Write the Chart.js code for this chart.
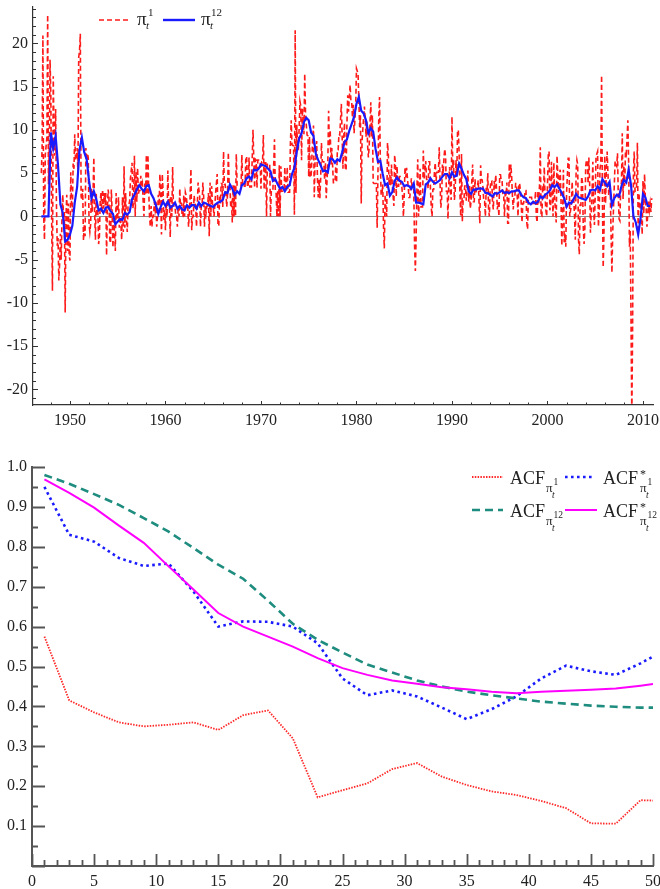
<!DOCTYPE html>
<html><head><meta charset="utf-8">
<script src="https://cdn.jsdelivr.net/npm/chart.js@4.4.0/dist/chart.umd.min.js"></script>
<style>
html,body{margin:0;padding:0;background:#fff;}
#wrap{position:relative;width:660px;height:889px;overflow:hidden;background:#fff;}
#c1{position:absolute;left:0;top:0;}
#c2{position:absolute;left:0;top:440px;}
#lg{position:absolute;left:0;top:0;pointer-events:none;}
</style></head><body>
<div id="wrap">
<canvas id="c1" width="660" height="440"></canvas>
<canvas id="c2" width="660" height="449"></canvas>
<svg id="lg" width="660" height="889" font-family="'Liberation Serif','Times New Roman',serif" fill="#222" font-size="18">
  <line x1="99" y1="20" x2="128" y2="20" stroke="#ff1a1a" stroke-width="1.7" stroke-dasharray="5 3"/>
  <text x="137" y="25" font-size="19">π</text>
  <text x="146" y="29" font-size="11" font-style="italic">t</text>
  <text x="148" y="16" font-size="11">1</text>
  <line x1="163" y1="20" x2="195" y2="20" stroke="#1a1aff" stroke-width="2.4"/>
  <text x="201" y="25" font-size="19">π</text>
  <text x="210" y="29" font-size="11" font-style="italic">t</text>
  <text x="211" y="16" font-size="11">12</text>

  <line x1="472" y1="477" x2="503" y2="477" stroke="#ff2a2a" stroke-width="1.8" stroke-dasharray="1.5 1.3"/>
  <text x="510" y="484">ACF</text>
  <text x="546" y="492" font-size="13">π</text>
  <text x="553.5" y="485" font-size="9.5">1</text>
  <text x="552" y="498" font-size="9.5" font-style="italic">t</text>
  <line x1="565" y1="477" x2="595" y2="477" stroke="#1a1aff" stroke-width="2.6" stroke-dasharray="2.6 3.4"/>
  <text x="603" y="484">ACF</text>
  <text x="640" y="478" font-size="12">*</text>
  <text x="640" y="492" font-size="13">π</text>
  <text x="647.5" y="485" font-size="9.5">1</text>
  <text x="646" y="498" font-size="9.5" font-style="italic">t</text>

  <line x1="472" y1="510" x2="503" y2="510" stroke="#1e8c7e" stroke-width="2.6" stroke-dasharray="8 5"/>
  <text x="510" y="517">ACF</text>
  <text x="546" y="525" font-size="13">π</text>
  <text x="553.5" y="518" font-size="9.5">12</text>
  <text x="552" y="531" font-size="9.5" font-style="italic">t</text>
  <line x1="565" y1="510" x2="597" y2="510" stroke="#ff00ff" stroke-width="2"/>
  <text x="603" y="517">ACF</text>
  <text x="640" y="511" font-size="12">*</text>
  <text x="640" y="525" font-size="13">π</text>
  <text x="647.5" y="518" font-size="9.5">12</text>
  <text x="646" y="531" font-size="9.5" font-style="italic">t</text>
</svg>
</div>
<script>
// ---------- DATA ----------
const START_YEAR = 1947;           // first month: Jan 1947
// monthly annualised inflation pi^1 (one row per year, Jan..Dec)
const pi1 = [
5.0,7.8,20.9,0.0,-2.7,7.1,8.1,9.1,23.3,3.7,7.8,18.1,
13.8,-0.5,-8.6,16.2,9.5,7.0,12.4,1.5,-3.4,-2.5,-7.4,-5.5,
-2.0,-5.0,0.0,2.5,-0.5,0.5,-11.1,0.0,2.5,-4.0,1.5,-4.6,
-5.1,5.1,1.5,0.5,6.1,5.5,9.5,6.5,6.9,7.9,4.9,18.4,
19.1,21.1,2.3,1.9,3.2,-2.8,-0.9,-2.3,7.9,6.0,7.3,6.8,
-0.9,-1.8,-0.9,3.2,0.5,2.7,6.8,0.5,-2.7,2.7,0.0,0.9,
-3.2,-2.3,1.8,2.7,0.5,3.1,0.9,2.7,1.8,2.7,-4.5,0.9,
3.1,2.2,-2.7,-3.1,3.1,0.4,-3.6,-0.4,-1.8,-4.0,2.7,-0.4,
0.0,2.2,-1.3,0.0,-0.9,-2.7,2.2,-1.8,5.8,-1.3,2.7,-0.4,
-1.8,1.3,1.3,1.8,4.4,5.3,6.2,0.9,1.8,7.0,0.0,5.2,
1.7,5.6,2.6,3.0,3.0,4.7,3.4,3.8,1.7,0.0,3.8,2.5,
7.1,2.5,7.1,2.9,0.0,-1.2,1.2,-1.2,0.0,0.0,1.7,0.8,
1.7,-1.2,0.0,2.5,1.2,4.9,2.9,-2.1,4.9,2.9,-0.4,0.8,
-1.6,1.6,0.0,5.3,1.2,1.6,-2.4,2.4,0.0,5.7,1.2,1.2,
1.2,0.0,0.0,-1.2,1.2,0.0,3.2,0.8,1.6,0.0,0.0,2.4,
0.0,2.8,2.4,1.6,1.2,-1.2,0.4,2.4,5.5,-1.6,0.0,0.0,
2.4,1.6,1.2,-1.2,1.2,3.9,3.1,2.3,-1.2,1.2,1.2,3.9,
2.3,-1.2,1.2,0.4,1.2,1.2,2.7,-2.3,3.9,0.0,3.5,1.5,
1.2,0.0,1.2,2.7,3.8,4.9,-1.1,-1.1,2.3,1.5,3.8,3.8,
1.1,7.5,3.7,3.7,2.6,1.1,2.6,7.4,3.7,3.7,1.1,1.5,
-0.7,3.6,0.0,3.6,0.0,7.2,3.6,3.6,3.6,3.6,3.6,3.5,
7.1,3.5,3.5,3.5,3.5,6.9,6.9,3.4,3.4,6.8,3.4,3.4,
3.4,6.7,10.0,6.6,3.3,6.6,6.5,3.3,6.5,6.5,6.4,6.4,
3.2,6.3,6.3,9.4,3.1,6.2,6.2,0.0,6.1,6.1,6.1,6.0,
0.0,3.0,3.0,3.0,6.0,8.9,3.0,2.9,0.0,2.9,0.0,5.9,
0.0,5.8,2.9,2.9,2.9,2.9,5.7,2.9,2.9,5.7,2.8,2.8,
2.8,8.4,11.1,8.3,8.2,8.2,0.2,21.5,2.7,10.6,7.9,7.8,
10.3,13.3,12.8,6.5,12.5,11.0,9.5,16.5,11.8,10.5,9.4,9.3,
4.6,9.2,4.6,4.5,6.8,9.0,10.5,2.2,6.6,6.6,8.7,4.3,
2.2,4.3,2.1,4.3,8.5,6.4,6.3,6.3,4.2,6.2,2.1,4.1,
6.2,12.2,8.1,10.0,6.0,7.9,5.9,3.9,3.9,3.9,5.8,3.9,
7.7,7.7,9.5,9.4,11.2,13.0,9.2,5.5,9.1,10.8,5.4,5.3,
10.6,14.0,12.1,13.7,15.2,13.4,13.2,11.4,12.9,9.6,11.1,12.6,
17.1,16.8,16.5,13.4,10.3,11.7,1.5,8.7,10.1,11.4,12.7,11.2,
9.2,11.0,8.2,6.8,8.1,10.7,13.2,9.1,11.7,3.9,3.8,3.8,
3.8,3.8,-1.3,5.1,11.3,13.8,6.2,2.5,2.5,3.7,-1.2,-3.7,
2.5,1.2,0.0,8.5,7.3,3.6,4.8,3.6,6.0,3.6,2.4,1.2,
7.1,5.9,2.3,5.8,3.5,3.5,4.6,4.6,3.4,3.4,2.3,0.0,
2.3,5.7,4.5,5.6,4.5,3.4,2.2,2.2,3.3,4.4,3.3,3.3,
3.3,-3.3,-6.3,-2.2,3.3,6.6,0.0,2.2,5.5,1.1,1.1,1.1,
7.6,4.3,5.4,6.4,4.3,4.2,3.2,6.3,6.3,3.1,1.0,0.0,
3.1,3.1,5.2,6.2,4.1,5.1,5.1,5.1,8.0,4.0,1.0,2.0,
6.0,4.9,6.9,7.8,6.8,2.9,2.9,-0.3,3.8,5.7,2.9,1.9,
11.5,5.6,6.5,1.9,2.8,6.5,4.6,9.9,10.0,7.2,2.7,0.0,
7.2,-0.6,1.8,1.8,3.5,3.5,1.8,3.5,5.3,1.7,3.5,0.9,
1.7,4.3,6.0,1.7,1.7,4.3,2.6,3.4,3.4,4.2,1.7,-0.8,
5.9,4.2,4.2,3.3,1.7,1.7,0.0,3.3,2.5,5.0,0.8,0.0,
3.3,4.1,4.1,1.6,0.8,4.1,3.2,4.8,3.2,0.8,1.6,0.0,
4.8,4.8,4.0,4.0,2.4,2.4,0.0,3.1,2.4,3.9,-0.8,-0.8,
6.1,3.9,6.0,4.6,2.3,0.8,2.3,2.3,3.8,3.8,2.3,0.0,
3.8,3.8,3.0,1.5,-0.7,1.5,1.5,2.2,3.0,3.0,-0.7,-1.5,
2.2,2.2,2.2,2.2,2.2,1.5,1.5,1.5,1.5,2.9,0.0,-0.7,
2.9,1.5,3.6,8.0,0.0,0.0,3.6,2.9,5.7,2.1,0.7,0.0,
3.6,7.1,7.5,0.7,1.4,6.3,2.8,0.0,6.2,2.1,0.7,-0.7,
7.0,4.8,2.7,4.8,5.4,2.0,-3.4,0.0,5.4,-3.0,-2.0,-3.5,
2.7,4.7,6.7,6.7,0.0,0.7,1.3,4.0,2.0,2.0,0.0,-2.7,
5.3,6.5,6.0,-2.6,-4.4,1.3,1.3,4.6,3.9,-1.3,-3.2,-1.3,
5.8,6.5,6.5,3.8,6.8,3.8,-1.9,0.6,2.5,6.3,0.6,-1.0,
2.5,6.9,7.2,7.5,-1.2,0.6,5.5,6.1,16.3,2.4,-5.9,-2.0,
7.0,1.5,5.5,7.5,5.0,2.4,3.5,2.4,-2.5,-6.5,-1.8,1.0,
3.7,6.4,6.0,5.8,7.3,2.3,-0.3,-0.5,3.3,4.0,9.6,2.0,
5.9,3.5,7.5,7.2,9.0,11.1,6.2,-3.5,-1.7,-12.2,-23.2,-12.5,
5.2,7.5,2.9,3.0,3.5,8.5,-1.9,2.7,0.8,1.2,0.8,-2.1,
4.1,0.3,4.9,2.1,0.9,-1.2,0.2,1.7,0.7,1.5,0.5,2.1
];
// 12-month inflation pi^12, quarterly readings (Jan, Apr, Jul, Oct)
const pi12 = [
0,0,0,0, 9.7,7.9,9.3,5.9, 1.4,0.4,-2.9,-2.7, -2.1,-1.1,1.6,3.4,
7.7,9.1,7.4,6.6, 4.1,2.1,2.9,2.0, 0.7,0.9,0.4,1.0, 1.1,0.6,0.3,-0.9,
-0.6,-0.3,-0.4,0.4, 0.2,0.5,2.0,2.5, 3.1,3.6,3.2,2.9, 3.5,3.6,2.6,2.1,
1.3,0.3,1.1,1.7, 1.2,1.7,1.0,1.2, 1.6,0.9,1.2,0.8, 0.7,1.3,1.0,1.3,
1.3,0.9,1.6,1.2, 1.6,1.5,1.3,1.2, 1.1,1.4,1.6,1.7, 1.9,2.8,2.7,3.7,
3.2,2.5,2.9,2.6, 3.6,3.8,4.4,4.6, 4.3,5.4,5.3,5.5, 6.0,5.9,5.8,5.5,
5.2,4.1,4.3,3.7, 3.2,3.4,2.9,3.4, 3.6,4.9,5.6,7.5, 9.0,9.6,10.9,11.4,
11.1,9.7,9.3,7.2, 6.5,5.9,5.2,5.3, 5.1,6.7,6.6,6.2, 6.6,6.4,7.4,8.6,
8.9,9.9,10.7,11.5, 13.0,13.8,12.2,11.9, 11.1,9.6,10.2,9.8, 7.8,6.3,6.4,4.9,
3.6,3.8,2.4,2.8, 4.1,4.5,4.1,4.0, 3.5,3.6,3.5,3.2, 3.8,1.6,1.6,1.5,
1.4,3.7,3.9,4.4, 4.0,3.8,4.0,4.2, 4.6,4.9,4.9,4.4, 5.1,4.6,4.7,6.1,
5.5,4.8,4.3,2.9, 2.6,3.1,3.1,3.2, 3.2,3.2,2.7,2.7, 2.5,2.3,2.7,2.6,
2.8,3.0,2.7,2.8, 2.7,2.9,2.9,3.0, 3.0,2.5,2.2,2.1, 1.6,1.4,1.7,1.5,
1.7,2.3,2.1,2.5, 2.7,3.0,3.6,3.4, 3.7,3.2,2.7,2.1, 1.1,1.6,1.5,2.0,
2.6,2.2,2.1,2.0, 1.9,2.3,3.0,3.1, 3.0,3.5,3.1,4.3, 3.9,3.5,4.0,1.3,
2.1,2.5,2.3,3.5, 4.2,3.9,5.4,3.6, 0.0,-0.7,-2.1,-0.2, 2.6,2.2,1.2,1.2
];
// autocorrelation functions
const lags        = [1,3,5,7,9,11,13,15,17,19,21,23,25,27,29,31,33,35,37,39,41,43,45,47,49,50];
const acfPi1      = [0.575,0.415,0.385,0.36,0.35,0.354,0.36,0.341,0.378,0.39,0.32,0.172,0.19,0.207,0.243,0.258,0.224,0.203,0.187,0.178,0.163,0.145,0.107,0.106,0.165,0.164];
const acfStarPi1  = [0.95,0.83,0.813,0.772,0.752,0.758,0.688,0.60,0.613,0.612,0.60,0.558,0.47,0.428,0.44,0.425,0.397,0.368,0.393,0.425,0.47,0.502,0.488,0.479,0.508,0.525];
const acfPi12     = [0.98,0.958,0.932,0.905,0.872,0.838,0.797,0.755,0.72,0.665,0.607,0.567,0.535,0.505,0.485,0.465,0.45,0.437,0.428,0.42,0.412,0.407,0.402,0.399,0.397,0.397];
const acfStarPi12 = [0.969,0.935,0.898,0.853,0.81,0.751,0.693,0.634,0.60,0.575,0.55,0.521,0.496,0.479,0.465,0.457,0.448,0.443,0.437,0.433,0.437,0.439,0.442,0.445,0.452,0.456];
// tick labels
const yearTicks = [1950,1960,1970,1980,1990,2000,2010];
const inflTicks = [-20,-15,-10,-5,0,5,10,15,20];
const lagTicks  = [0,5,10,15,20,25,30,35,40,45,50];
const acfTicks  = [0.1,0.2,0.3,0.4,0.5,0.6,0.7,0.8,0.9,1.0];

// ---------- HELPERS ----------
const FONT = {family: "'Liberation Serif','Times New Roman',serif", size: 16};
const fixY = w => s => { s.width = w; s.paddingTop = 0; s.paddingBottom = 0; };
const fixX = h => s => { s.height = h; s.paddingLeft = 0; s.paddingRight = 0; };
const setTicks = arr => s => { s.ticks = arr.map(v => ({value: v})); };

const insideTicks = {
  id: 'insideTicks',
  afterDraw(chart, args, o) {
    const {ctx, chartArea: a, scales: {x, y}} = chart;
    ctx.save();
    ctx.strokeStyle = o.color; ctx.lineWidth = o.width; ctx.lineCap = 'butt';
    ctx.beginPath();
    const isMaj = (v, m) => Math.abs(v / m - Math.round(v / m)) < 1e-6;
    for (let k = Math.ceil(x.min / o.xMinor - 1e-9); k * o.xMinor <= x.max + 1e-9; k++) {
      const v = k * o.xMinor;
      const px = Math.round(x.getPixelForValue(v)) + 0.5;
      ctx.moveTo(px, a.bottom);
      ctx.lineTo(px, a.bottom - (isMaj(v, o.xMajor) ? o.xMajLen : o.xMinLen));
    }
    for (let k = Math.ceil(y.min / o.yMinor - 1e-9); k * o.yMinor <= y.max + 1e-9; k++) {
      const v = k * o.yMinor;
      const py = Math.round(y.getPixelForValue(v)) + 0.5;
      ctx.moveTo(a.left, py);
      ctx.lineTo(a.left + (isMaj(v, o.yMajor) ? o.yMajLen : o.yMinLen), py);
    }
    ctx.stroke();
    ctx.restore();
  }
};

// ---------- TOP CHART ----------
new Chart(document.getElementById('c1'), {
  type: 'line',
  data: {
    datasets: [
      { label: 'pi1', order: 1,
        data: pi1.map((v, i) => ({x: START_YEAR + i / 12, y: v})),
        borderColor: '#ff1a1a', borderWidth: 1.6, borderDash: [5, 3],
        pointRadius: 0, fill: false, tension: 0 },
      { label: 'pi12', order: 0,
        data: pi12.map((v, i) => ({x: START_YEAR + i / 4, y: v})),
        borderColor: '#1a1aff', borderWidth: 2.2,
        pointRadius: 0, fill: false, tension: 0 }
    ]
  },
  options: {
    responsive: false, animation: false, events: [],
    layout: {padding: {left: 0, top: 7, right: 7, bottom: 0}},
    plugins: {
      legend: {display: false}, tooltip: {enabled: false},
      insideTicks: {color: '#333', width: 1, xMinor: 2, xMajor: 10, xMajLen: 4, xMinLen: 2.5,
                    yMinor: 1, yMajor: 5, yMajLen: 5, yMinLen: 3}
    },
    scales: {
      x: { type: 'linear', min: 1946.13, max: 2011.05,
           afterBuildTicks: setTicks(yearTicks), afterFit: fixX(35),
           grid: {display: false, drawTicks: false},
           border: {display: true, color: '#333', width: 1.2},
           ticks: {padding: 6, font: FONT, color: '#222', maxRotation: 0, autoSkip: false, callback: v => String(v)} },
      y: { type: 'linear', min: -21.8, max: 24.2,
           afterBuildTicks: setTicks(inflTicks), afterFit: fixY(33),
           grid: {display: true, drawTicks: false, lineWidth: 1,
                  color: c => (c.tick && c.tick.value === 0) ? '#8a8a8a' : 'rgba(0,0,0,0)'},
           border: {display: true, color: '#333', width: 1.2},
           ticks: {padding: 5, font: FONT, color: '#222', autoSkip: false, callback: v => String(v)} }
    }
  },
  plugins: [insideTicks]
});

// ---------- BOTTOM CHART ----------
const pts = arr => lags.map((l, i) => ({x: l, y: arr[i]}));
new Chart(document.getElementById('c2'), {
  type: 'line',
  data: {
    datasets: [
      { label: 'ACF pi1', order: 3, data: pts(acfPi1),
        borderColor: '#ff2a2a', borderWidth: 1.8, borderDash: [1.5, 1.3], pointRadius: 0, tension: 0 },
      { label: 'ACF* pi1', order: 2, data: pts(acfStarPi1),
        borderColor: '#1a1aff', borderWidth: 2.6, borderDash: [2.6, 3.4], pointRadius: 0, tension: 0 },
      { label: 'ACF pi12', order: 1, data: pts(acfPi12),
        borderColor: '#1e8c7e', borderWidth: 2.6, borderDash: [8, 5], pointRadius: 0, tension: 0 },
      { label: 'ACF* pi12', order: 0, data: pts(acfStarPi12),
        borderColor: '#ff00ff', borderWidth: 2, pointRadius: 0, tension: 0 }
    ]
  },
  options: {
    responsive: false, animation: false, events: [],
    layout: {padding: {left: 0, top: 27, right: 7, bottom: 0}},
    plugins: {
      legend: {display: false}, tooltip: {enabled: false},
      insideTicks: {color: '#555', width: 1.8, xMinor: 1, xMajor: 5, xMajLen: 12, xMinLen: 6,
                    yMinor: 0.05, yMajor: 0.1, yMajLen: 13, yMinLen: 6}
    },
    scales: {
      x: { type: 'linear', min: 0, max: 50,
           afterBuildTicks: setTicks(lagTicks), afterFit: fixX(23),
           grid: {display: false, drawTicks: false},
           border: {display: true, color: '#555', width: 2},
           ticks: {padding: 6, font: FONT, color: '#222', maxRotation: 0, autoSkip: false, callback: v => String(v)} },
      y: { type: 'linear', min: 0, max: 1,
           afterBuildTicks: setTicks(acfTicks), afterFit: fixY(32),
           grid: {display: false, drawTicks: false},
           border: {display: true, color: '#555', width: 2},
           ticks: {padding: 5, font: FONT, color: '#222', autoSkip: false, callback: v => Number(v).toFixed(1)} }
    }
  },
  plugins: [insideTicks]
});
</script>
</body></html>
